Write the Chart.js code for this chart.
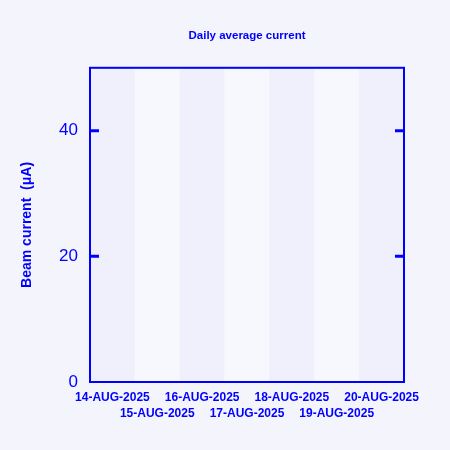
<!DOCTYPE html>
<html>
<head>
<meta charset="utf-8">
<script src="https://cdn.jsdelivr.net/npm/chart.js@4"></script>
<style>
  html, body { margin:0; padding:0; background:#f4f4fc; }
  #wrap { width:450px; height:450px; }
</style>
</head>
<body>
<div id="wrap"><canvas id="grafico"></canvas></div>
<script>
// --- Dados ---
const dias = ["14-AUG-2025","15-AUG-2025","16-AUG-2025","17-AUG-2025","18-AUG-2025","19-AUG-2025","20-AUG-2025"];
const corrente = [null, null, null, null, null, null, null]; // nenhum valor no período
const yTicks = [0, 20, 40];
const yMax = 50;

const azul = "#0000ff";
const faixaEscura = "#f0f0fc";
const faixaClara = "#f7f7fe";

// faixas alternadas por dia + moldura com ticks internos
const moldura = {
  id: "moldura",
  beforeDatasetsDraw(chart){
    const {ctx, chartArea:a, scales:{x}} = chart;
    const meia = (x.getPixelForValue(1) - x.getPixelForValue(0)) / 2;
    ctx.save();
    dias.forEach((d, i)=>{
      const cx = x.getPixelForValue(i);
      ctx.fillStyle = i % 2 === 0 ? faixaEscura : faixaClara;
      ctx.fillRect(cx - meia, a.top, meia * 2, a.bottom - a.top);
    });
    ctx.restore();
  },
  afterDraw(chart){
    const {ctx, chartArea:a, scales:{y}} = chart;
    ctx.save();
    ctx.strokeStyle = azul;
    ctx.lineWidth = 2;
    ctx.strokeRect(a.left, a.top, a.right - a.left, a.bottom - a.top);
    ctx.lineWidth = 3;
    yTicks.forEach(v=>{
      if(v === 0) return;
      const py = y.getPixelForValue(v);
      ctx.beginPath();
      ctx.moveTo(a.left, py); ctx.lineTo(a.left + 9, py);
      ctx.moveTo(a.right, py); ctx.lineTo(a.right - 9, py);
      ctx.stroke();
    });
    ctx.restore();
  }
};

const fonte = "'Liberation Sans', Arial, sans-serif";

new Chart(document.getElementById("grafico"), {
  type: "bar",
  data: {
    labels: dias,
    datasets: [{ label: "Corrente", data: corrente, backgroundColor: azul }]
  },
  options: {
    responsive: true,
    maintainAspectRatio: false,
    animation: false,
    layout: { padding: { left:0, right:46, top:0, bottom:0 } },
    plugins: {
      legend: { display:false },
      tooltip: { enabled:false },
      title: {
        display: true,
        fullSize: false,
        text: "Daily average current",
        color: azul,
        font: { family: fonte, size: 11.5, weight: "bold", lineHeight: 1.2 },
        padding: { top: 29, bottom: 25 }
      }
    },
    scales: {
      x: {
        grid: { display:false, drawTicks:false },
        border: { display:false },
        ticks: {
          color: azul,
          autoSkip: false,
          maxRotation: 0,
          minRotation: 0,
          padding: 8,
          font: { family: fonte, size: 12, weight: "bold", lineHeight: 1.33 },
          callback: (v, i) => i % 2 === 0 ? [dias[i], ""] : ["", dias[i]]
        },
        afterFit: s => { s.height = 68; }
      },
      y: {
        min: 0,
        max: yMax,
        grid: { display:false, drawTicks:false },
        border: { display:false },
        afterBuildTicks: s => { s.ticks = yTicks.map(v => ({ value: v })); },
        ticks: {
          color: azul,
          padding: 12,
          font: { family: fonte, size: 17 }
        },
        title: {
          display: true,
          text: "Beam current  (\u03bcA)",
          color: azul,
          font: { family: fonte, size: 14, weight: "bold" },
          padding: { top: 19, bottom: 0 }
        },
        afterFit: s => { s.width = 90; }
      }
    }
  },
  plugins: [moldura]
});
</script>
</body>
</html>
